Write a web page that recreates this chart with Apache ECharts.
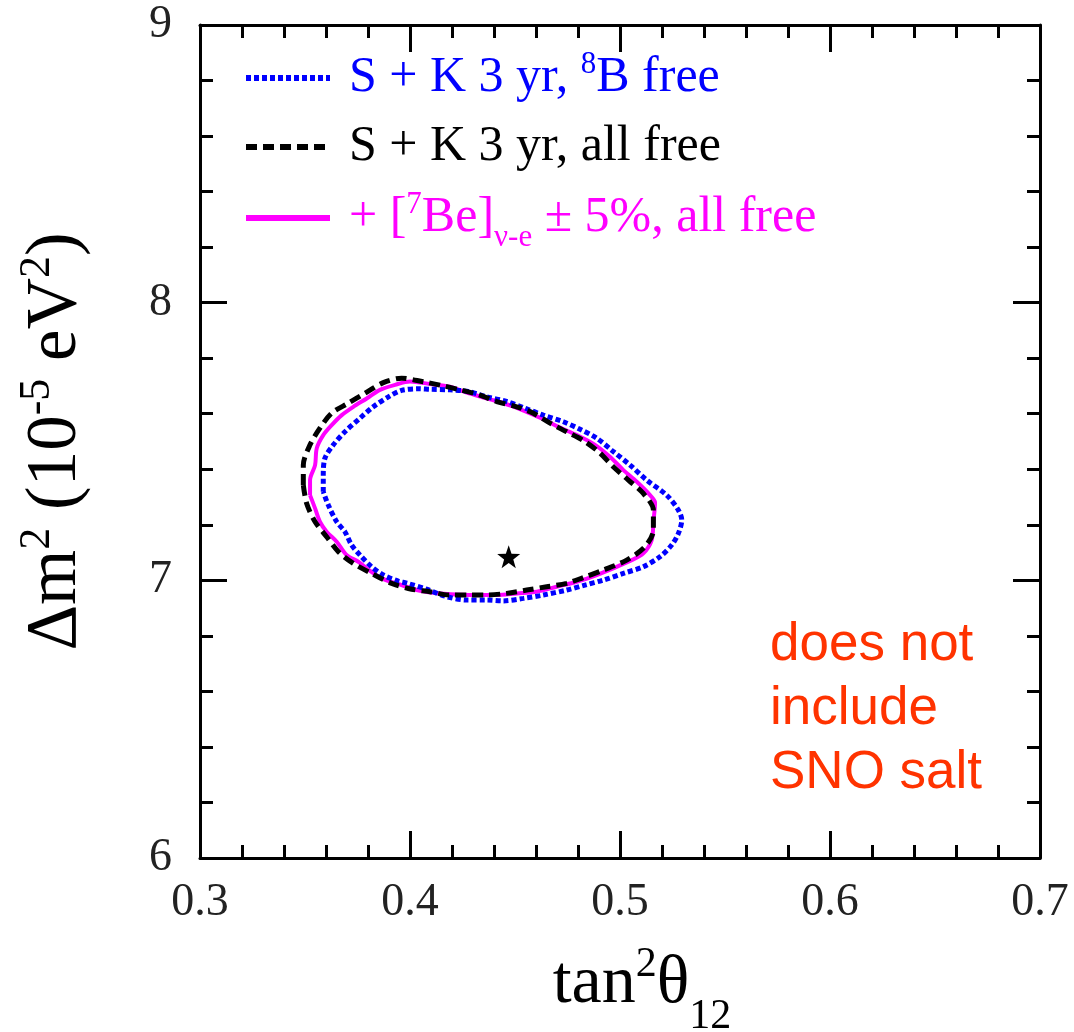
<!DOCTYPE html>
<html>
<head>
<meta charset="utf-8">
<title>tan²θ12 – Δm² allowed region</title>
<script src="https://cdn.jsdelivr.net/npm/echarts@6/dist/echarts.min.js"></script>
<style>
  html, body { margin: 0; padding: 0; background: #fff; }
  #chart { width: 1074px; height: 1032px; }
</style>
</head>
<body>
<div id="chart"></div>
<script>
// Axis ranges and ticks
const xRange = [0.3, 0.7];
const yRange = [6, 9];
const xTickStep = 0.1;
const yTickStep = 1;

// Contour: S + K 3 yr, 8B free (blue, dotted)
const contour8BFree = [
  [0.3587, 7.319], [0.3587, 7.379], [0.3595, 7.440], [0.3635, 7.488], [0.3690, 7.535],
  [0.3762, 7.584], [0.3825, 7.625], [0.3897, 7.661], [0.3960, 7.684], [0.4040, 7.690],
  [0.4095, 7.688], [0.4190, 7.686], [0.4278, 7.680], [0.4365, 7.661], [0.4460, 7.644],
  [0.4548, 7.620], [0.4635, 7.595], [0.4730, 7.571], [0.4810, 7.544], [0.4889, 7.512],
  [0.4968, 7.464], [0.5048, 7.415], [0.5127, 7.361], [0.5222, 7.307], [0.5278, 7.253],
  [0.5294, 7.217], [0.5278, 7.169], [0.5246, 7.127], [0.5190, 7.085], [0.5111, 7.049],
  [0.5016, 7.025], [0.4921, 7.001], [0.4833, 6.983], [0.4746, 6.965], [0.4635, 6.947],
  [0.4540, 6.935], [0.4444, 6.926], [0.4365, 6.929], [0.4270, 6.929], [0.4175, 6.941],
  [0.4079, 6.968], [0.3984, 6.990], [0.3944, 6.997], [0.3873, 7.019], [0.3817, 7.049],
  [0.3762, 7.091], [0.3722, 7.127], [0.3690, 7.175], [0.3651, 7.211], [0.3611, 7.271],
  [0.3587, 7.319]
];

// Contour: S + K 3 yr, all free (black, dashed)
const contourAllFree = [
  [0.3492, 7.343], [0.3492, 7.415], [0.3524, 7.488], [0.3571, 7.548], [0.3627, 7.602],
  [0.3706, 7.638], [0.3786, 7.674], [0.3873, 7.712], [0.3960, 7.728], [0.4063, 7.715],
  [0.4143, 7.703], [0.4238, 7.686], [0.4333, 7.667], [0.4413, 7.644], [0.4508, 7.625],
  [0.4587, 7.602], [0.4667, 7.566], [0.4746, 7.535], [0.4833, 7.500], [0.4905, 7.458],
  [0.4968, 7.409], [0.5040, 7.361], [0.5111, 7.313], [0.5159, 7.253], [0.5159, 7.181],
  [0.5119, 7.121], [0.5032, 7.073], [0.4921, 7.037], [0.4825, 7.010], [0.4746, 6.989],
  [0.4651, 6.977], [0.4556, 6.965], [0.4460, 6.953], [0.4365, 6.947], [0.4286, 6.947],
  [0.4190, 6.947], [0.4095, 6.959], [0.4008, 6.968], [0.3913, 6.989], [0.3817, 7.025],
  [0.3730, 7.061], [0.3659, 7.103], [0.3603, 7.157], [0.3548, 7.211], [0.3508, 7.277],
  [0.3492, 7.343]
];

// Contour: + [7Be] ν-e ± 5%, all free (magenta, solid)
const contourBe7 = [
  [0.3524, 7.307], [0.3524, 7.361], [0.3548, 7.415], [0.3556, 7.476], [0.3587, 7.523],
  [0.3627, 7.559], [0.3675, 7.595], [0.3730, 7.625], [0.3794, 7.655], [0.3857, 7.686],
  [0.3929, 7.704], [0.4000, 7.716], [0.4095, 7.707], [0.4190, 7.697], [0.4270, 7.676],
  [0.4381, 7.652], [0.4484, 7.628], [0.4635, 7.580], [0.4714, 7.550], [0.4794, 7.523],
  [0.4881, 7.488], [0.4952, 7.445], [0.5016, 7.397], [0.5080, 7.355], [0.5143, 7.307],
  [0.5167, 7.280], [0.5159, 7.211], [0.5151, 7.145], [0.5111, 7.097], [0.5056, 7.073],
  [0.4889, 7.019], [0.4794, 6.995], [0.4698, 6.977], [0.4603, 6.959], [0.4508, 6.953],
  [0.4413, 6.947], [0.4317, 6.947], [0.4143, 6.953], [0.4048, 6.962], [0.3960, 6.983],
  [0.3865, 7.007], [0.3794, 7.043], [0.3754, 7.067], [0.3698, 7.091], [0.3651, 7.139],
  [0.3603, 7.175], [0.3571, 7.211], [0.3548, 7.259], [0.3524, 7.307]
];

// Best-fit point
const bestFit = [[0.447, 7.085]];

const serif = '"Liberation Serif", "Times New Roman", serif';
const STAR = 'path://M0,-10L2.35,-3.24L9.51,-3.09L3.8,1.24L5.88,8.09L0,4L-5.88,8.09L-3.8,1.24L-9.51,-3.09L-2.35,-3.24Z';

const chart = echarts.init(document.getElementById('chart'), null, { renderer: 'canvas' });

function axisCommon(extra) {
  return Object.assign({
    type: 'value',
    axisLine: { show: true, onZero: false, lineStyle: { color: '#000', width: 3 } },
    axisTick: { show: true, inside: true, length: 27, lineStyle: { color: '#000', width: 3 } },
    minorTick: { show: true, splitNumber: 5, length: 13, lineStyle: { color: '#000', width: 3 } },
    splitLine: { show: false },
    minorSplitLine: { show: false }
  }, extra);
}

function legendRich(color) {
  return {
    t: { fontFamily: serif, fontSize: 50, color: color, lineHeight: 58 },
    t0: { fontFamily: serif, fontSize: 50, color: color, lineHeight: 58, padding: [0, 0, 0, 14] },
    sup: { fontFamily: serif, fontSize: 31, color: color, lineHeight: 30, verticalAlign: 'top' },
    sub: { fontFamily: serif, fontSize: 31, color: color, lineHeight: 30, verticalAlign: 'bottom', padding: [0, 0, -6, 0] }
  };
}

function legendAt(name, top, color, label) {
  return {
    data: [{ name: name, itemStyle: { opacity: 0 } }],
    left: 243,
    top: top,
    orient: 'vertical',
    padding: 0,
    itemWidth: 84,
    itemHeight: 14,
    selectedMode: false,
    itemStyle: { opacity: 0, color: 'rgba(0,0,0,0)', borderWidth: 0 },
    lineStyle: { width: 6, opacity: 1 },
    formatter: function () { return label; },
    textStyle: { color: color, rich: legendRich(color) }
  };
}

const option = {
  animation: false,
  backgroundColor: '#fff',
  grid: { left: 200, right: 34, top: 25, bottom: 174, show: false, containLabel: false, outerBoundsMode: 'none' },
  legend: [
    legendAt('S + K 3 yr, 8B free', 49, '#0000ff', '{t0|S + K 3 yr, }{sup|8}{t|B free}'),
    legendAt('S + K 3 yr, all free', 122, '#000000', '{t0|S + K 3 yr, all free}'),
    legendAt('+ [7Be] ν-e ± 5%, all free', 189, '#ff00ff', '{t0|+ [}{sup|7}{t|Be]}{sub|ν-e}{t| ± 5%, all free}')
  ],
  xAxis: [
    axisCommon({
      position: 'bottom', min: xRange[0], max: xRange[1], interval: xTickStep,
      axisLabel: {
        show: true, margin: 22, fontFamily: serif, fontSize: 46, color: '#222',
        formatter: function (v) { return v.toFixed(1); }
      },
      name: '{m|tan}{sup|2}{m|θ}{sub|12}',
      nameLocation: 'middle',
      nameGap: 86,
      nameTextStyle: {
        padding: [0, 0, 0, 44],
        rich: {
          m: { fontFamily: serif, fontSize: 68, color: '#000', lineHeight: 80 },
          sup: { fontFamily: serif, fontSize: 42, color: '#000', lineHeight: 42, verticalAlign: 'top' },
          sub: { fontFamily: serif, fontSize: 42, color: '#000', lineHeight: 42, verticalAlign: 'bottom', padding: [0, 0, -14, 0] }
        }
      }
    }),
    axisCommon({
      position: 'top', min: xRange[0], max: xRange[1], interval: xTickStep,
      axisLabel: { show: false }
    })
  ],
  yAxis: [
    axisCommon({
      position: 'left', min: yRange[0], max: yRange[1], interval: yTickStep,
      axisLabel: { show: true, margin: 28, fontFamily: serif, fontSize: 46, color: '#222' },
      name: '{m|Δm}{sup|2}{m| (10}{sup|-5}{m| eV}{sup|2}{m|)}',
      nameLocation: 'middle',
      nameRotate: 90,
      nameGap: 103,
      nameTextStyle: {
        rich: {
          m: { fontFamily: serif, fontSize: 71, color: '#000', lineHeight: 82 },
          sup: { fontFamily: serif, fontSize: 44, color: '#000', lineHeight: 44, verticalAlign: 'top' }
        }
      }
    }),
    axisCommon({
      position: 'right', min: yRange[0], max: yRange[1], interval: yTickStep,
      axisLabel: { show: false }
    })
  ],
  series: [
    {
      name: '+ [7Be] ν-e ± 5%, all free',
      type: 'line', data: contourBe7, xAxisIndex: 0, yAxisIndex: 0,
      symbol: 'none', smooth: 0.3, z: 2,
      itemStyle: { color: '#ff00ff' },
      lineStyle: { color: '#ff00ff', width: 4, type: 'solid' }
    },
    {
      name: 'S + K 3 yr, 8B free',
      type: 'line', data: contour8BFree, xAxisIndex: 0, yAxisIndex: 0,
      symbol: 'none', smooth: 0.3, z: 3,
      itemStyle: { color: '#0000ff' },
      lineStyle: { color: '#0000ff', width: 5, type: [5, 3] }
    },
    {
      name: 'S + K 3 yr, all free',
      type: 'line', data: contourAllFree, xAxisIndex: 0, yAxisIndex: 0,
      symbol: 'none', smooth: 0.3, z: 4,
      itemStyle: { color: '#000000' },
      lineStyle: { color: '#000000', width: 5, type: [11, 6] }
    },
    {
      name: 'best fit',
      type: 'scatter', data: bestFit, xAxisIndex: 0, yAxisIndex: 0,
      symbol: STAR, symbolSize: 23, z: 5,
      itemStyle: { color: '#000', opacity: 1 }
    }
  ],
  graphic: [
    {
      type: 'text',
      left: 770,
      top: 613,
      style: {
        text: 'does not\ninclude\nSNO salt',
        fontFamily: '"Liberation Sans", Arial, sans-serif',
        fontSize: 53,
        lineHeight: 64,
        fill: '#ff3300'
      }
    }
  ]
};

chart.setOption(option);
</script>
</body>
</html>
